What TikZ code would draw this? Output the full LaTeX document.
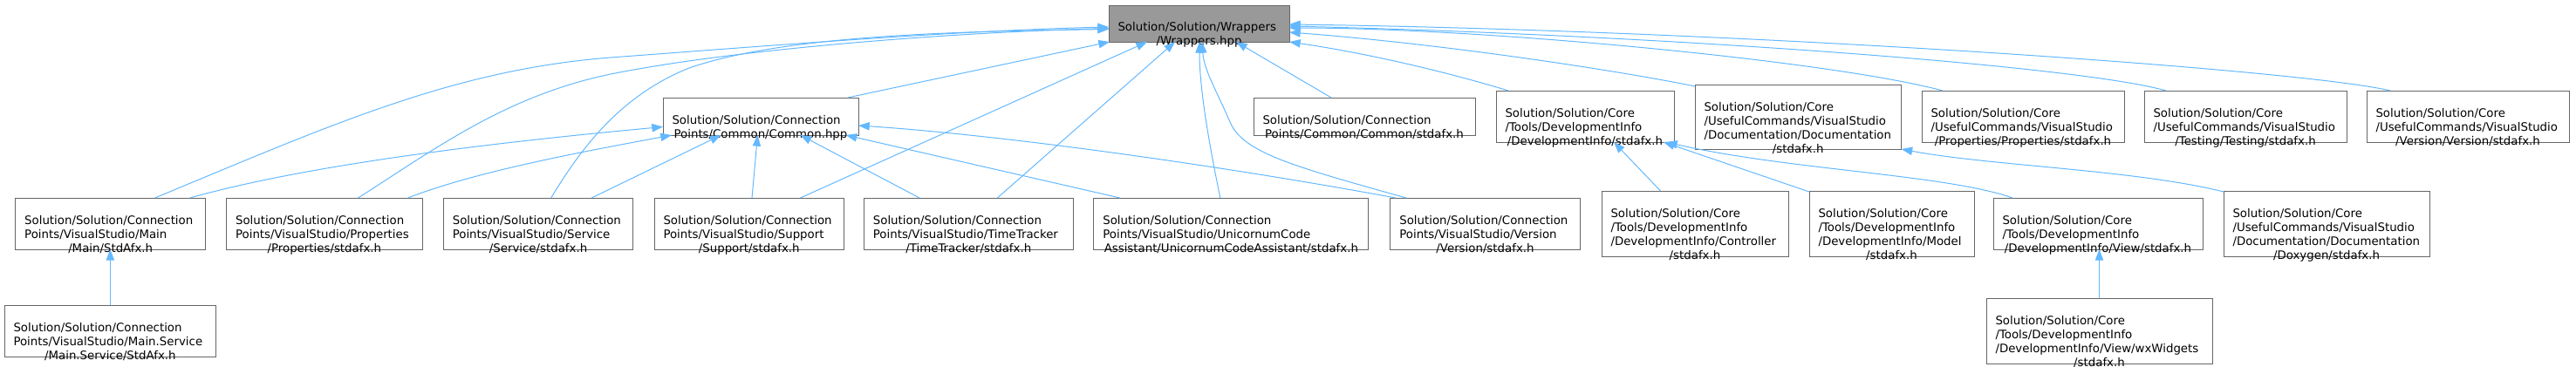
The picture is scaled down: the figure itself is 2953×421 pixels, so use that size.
\documentclass[tikz,border=0pt]{standalone}
\usepackage{fontspec}
\setmainfont{DejaVu Sans}
\usetikzlibrary{arrows.meta,calc}
\definecolor{dxgrey}{HTML}{999999}
\definecolor{dxborder}{HTML}{666666}
\definecolor{dxblue}{HTML}{63B8FF}
\newcommand\Ln[1]{\hbox{#1}}
\newcommand\Lc[1]{\hbox to \hsize{\hss#1\hss}}
\newcommand\dxnode[7]{%
  \node[dxbox,#6,minimum width={(#4-#2)*0.75pt},minimum height={(#5-#3)*0.75pt}] (#1) at ({(#2+#4)/2},{(#3+#5)/2}) {};
  \pgfmathsetlengthmacro\dxw{(#4-#2-21)*0.75pt}%
  \node[dxtxt] (#1-t) at ($(#1.north west)+(10.5,30)$) {\parbox[t]{\dxw}{#7}};
}
\begin{document}
\begin{tikzpicture}[x=0.75pt,y=-0.75pt,
  dxbox/.style={draw=dxborder,fill=white,line width=0.75pt,inner sep=0pt,outer sep=0pt},
  dxroot/.style={fill=dxgrey},
  dxtxt/.style={anchor=base west,inner sep=0pt,outer sep=0pt,font=\fontsize{10}{12}\selectfont},
  dxedge/.style={draw=dxblue,line width=0.75pt,-{Triangle[length=9.5pt,width=7pt]}}]
\useasboundingbox (0,0) rectangle (2953,421);

% row 1
\dxnode{n0}{1271}{6}{1478}{48}{dxroot}{\Ln{Solution/Solution/Wrappers}\Lc{/Wrappers.hpp}}
% row 2
\dxnode{n1}{760}{112}{984}{155}{}{\Ln{Solution/Solution/Connection}\Lc{Points/Common/Common.hpp}}
\dxnode{n10}{1437}{112}{1691}{155}{}{\Ln{Solution/Solution/Connection}\Lc{Points/Common/Common/stdafx.h}}
\dxnode{n11}{1715}{104}{1919}{163}{}{\Ln{Solution/Solution/Core}\Ln{/Tools/DevelopmentInfo}\Lc{/DevelopmentInfo/stdafx.h}}
\dxnode{n12}{1943}{97}{2179.5}{171}{}{\Ln{Solution/Solution/Core}\Ln{/UsefulCommands/VisualStudio}\Ln{/Documentation/Documentation}\Lc{/stdafx.h}}
\dxnode{n13}{2203}{104}{2435}{163}{}{\Ln{Solution/Solution/Core}\Ln{/UsefulCommands/VisualStudio}\Lc{/Properties/Properties/stdafx.h}}
\dxnode{n14}{2458}{104}{2690}{163}{}{\Ln{Solution/Solution/Core}\Ln{/UsefulCommands/VisualStudio}\Lc{/Testing/Testing/stdafx.h}}
\dxnode{n15}{2713}{104}{2945}{163}{}{\Ln{Solution/Solution/Core}\Ln{/UsefulCommands/VisualStudio}\Lc{/Version/Version/stdafx.h}}
% row 3
\dxnode{n2}{17.7}{227}{235.7}{286}{}{\Ln{Solution/Solution/Connection}\Ln{Points/VisualStudio/Main}\Lc{/Main/StdAfx.h}}
\dxnode{n4}{259.6}{227}{484.1}{286}{}{\Ln{Solution/Solution/Connection}\Ln{Points/VisualStudio/Properties}\Lc{/Properties/stdafx.h}}
\dxnode{n5}{508.3}{227}{725.8}{286}{}{\Ln{Solution/Solution/Connection}\Ln{Points/VisualStudio/Service}\Lc{/Service/stdafx.h}}
\dxnode{n6}{750}{227}{967.5}{286}{}{\Ln{Solution/Solution/Connection}\Ln{Points/VisualStudio/Support}\Lc{/Support/stdafx.h}}
\dxnode{n7}{990.4}{227}{1230.2}{286}{}{\Ln{Solution/Solution/Connection}\Ln{Points/VisualStudio/TimeTracker}\Lc{/TimeTracker/stdafx.h}}
\dxnode{n8}{1253.8}{227}{1568.9}{286}{}{\Ln{Solution/Solution/Connection}\Ln{Points/VisualStudio/UnicornumCode}\Lc{Assistant/UnicornumCodeAssistant/stdafx.h}}
\dxnode{n9}{1593.8}{227}{1811.2}{286}{}{\Ln{Solution/Solution/Connection}\Ln{Points/VisualStudio/Version}\Lc{/Version/stdafx.h}}
\dxnode{n16}{1836}{219}{2050}{294}{}{\Ln{Solution/Solution/Core}\Ln{/Tools/DevelopmentInfo}\Ln{/DevelopmentInfo/Controller}\Lc{/stdafx.h}}
\dxnode{n17}{2074}{219}{2263}{294}{}{\Ln{Solution/Solution/Core}\Ln{/Tools/DevelopmentInfo}\Ln{/DevelopmentInfo/Model}\Lc{/stdafx.h}}
\dxnode{n18}{2285}{227}{2525}{286}{}{\Ln{Solution/Solution/Core}\Ln{/Tools/DevelopmentInfo}\Lc{/DevelopmentInfo/View/stdafx.h}}
\dxnode{n19}{2549}{219}{2785}{294}{}{\Ln{Solution/Solution/Core}\Ln{/UsefulCommands/VisualStudio}\Ln{/Documentation/Documentation}\Lc{/Doxygen/stdafx.h}}
% row 4
\dxnode{n3}{5}{350}{247.7}{409}{}{\Ln{Solution/Solution/Connection}\Ln{Points/VisualStudio/Main.Service}\Lc{/Main.Service/StdAfx.h}}
\dxnode{n20}{2277}{342}{2536}{417}{}{\Ln{Solution/Solution/Core}\Ln{/Tools/DevelopmentInfo}\Ln{/DevelopmentInfo/View/wxWidgets}\Lc{/stdafx.h}}

% edges into Wrappers.hpp
\draw[dxedge] ($(n2.north west)+(160,0)$) .. controls (380,143) and (520,80) .. (700,66) .. controls (900,51) and (1100,35) .. ($(n0.north west)+(0,25)$);
\draw[dxedge] ($(n4.north west)+(151,0)$) .. controls (500,170) and (580,110) .. (700,85) .. controls (850,55) and (1100,37) .. ($(n0.north west)+(0,26.5)$);
\draw[dxedge] ($(n5.north west)+(123.4,0)$) .. controls (665,172) and (710,110) .. (790,78) .. controls (900,40) and (1100,36) .. ($(n0.north west)+(0,27.5)$);
\draw[dxedge] ($(n1.north west)+(211.7,0)$) -- ($(n0.south west)+(1,0)$);
\draw[dxedge] ($(n6.north west)+(167.5,0)$) -- ($(n0.south west)+(44,0)$);
\draw[dxedge] ($(n7.north west)+(153,0)$) -- ($(n0.south west)+(76,0)$);
\draw[dxedge] ($(n8.north west)+(145,0)$) .. controls (1385,160) and (1375,100) .. ($(n0.south west)+(104,0)$);
\draw[dxedge] ($(n9.north west)+(18,0)$) .. controls (1480,190) and (1425,175) .. (1410,140) .. controls (1395,105) and (1380,80) .. ($(n0.south west)+(107,0)$);
\draw[dxedge] ($(n10.north west)+(89,0)$) -- ($(n0.south west)+(146,0)$);
\draw[dxedge] ($(n11.north west)+(14,0)$) .. controls (1650,80) and (1560,60) .. (n0.south east);
\draw[dxedge] ($(n12.north west)+(0,2)$) .. controls (1850,80) and (1650,50) .. ($(n0.north east)+(0,31)$);
\draw[dxedge] ($(n13.north west)+(24,0)$) .. controls (2100,70) and (1700,32) .. ($(n0.north east)+(0,26)$);
\draw[dxedge] ($(n14.north west)+(25,0)$) .. controls (2380,75) and (1900,40) .. ($(n0.north east)+(0,24)$);
\draw[dxedge] ($(n15.north west)+(27,0)$) .. controls (2640,80) and (2000,35) .. ($(n0.north east)+(0,22)$);

% edges into Common.hpp
\draw[dxedge] ($(n2.north west)+(200,0)$) .. controls (350,190) and (550,165) .. ($(n1.north west)+(0,33.5)$);
\draw[dxedge] ($(n4.north west)+(208,0)$) .. controls (550,195) and (680,172) .. ($(n1.south west)+(10,0)$);
\draw[dxedge] ($(n5.north west)+(170,0)$) -- ($(n1.south west)+(66.5,0)$);
\draw[dxedge] ($(n6.north west)+(112,0)$) -- ($(n1.south west)+(108.5,0)$);
\draw[dxedge] ($(n7.north west)+(63.6,0)$) -- ($(n1.south west)+(157.5,0)$);
\draw[dxedge] ($(n8.north west)+(30,0)$) -- ($(n1.south west)+(209.6,0)$);
\draw[dxedge] ($(n9.north west)+(6,0)$) .. controls (1400,190) and (1150,155) .. ($(n1.north east)+(0,32)$);

% edges into DevelopmentInfo/stdafx.h
\draw[dxedge] ($(n16.north west)+(67.5,0)$) -- ($(n11.south west)+(135,0)$);
\draw[dxedge] ($(n17.north west)+(0,1)$) -- ($(n11.south west)+(192,0)$);
\draw[dxedge] ($(n18.north west)+(22,0)$) .. controls (2230,200) and (2050,195) .. ($(n11.south west)+(195,0)$);

% edge into Documentation/stdafx.h
\draw[dxedge] ($(n19.north west)+(0,1)$) .. controls (2450,195) and (2280,190) .. (n12.south east);

% vertical edges
\draw[dxedge] (n20.north) -- (n20.north |- n18.south);
\draw[dxedge] (n3.north) -- (n3.north |- n2.south);
\end{tikzpicture}
\end{document}
